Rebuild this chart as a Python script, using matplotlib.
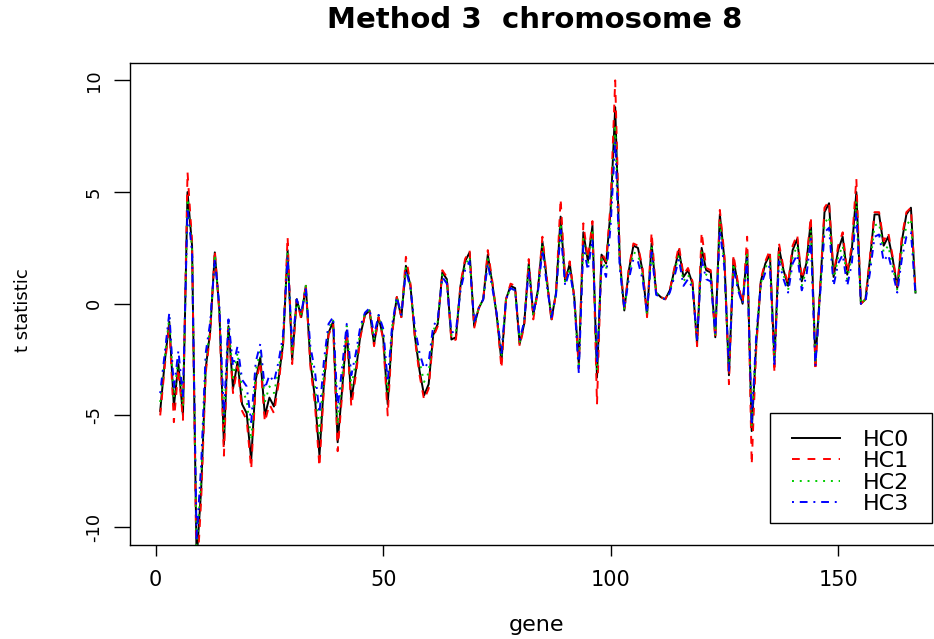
import numpy as np
import matplotlib
matplotlib.use("Agg")
import matplotlib.pyplot as plt
from matplotlib.patches import Rectangle

plt.rcParams['font.family'] = ['DejaVu Sans']
plt.rcParams['axes.unicode_minus'] = False

# t statistics per gene
hc0 = [-4.8, -2.6, -0.8, -4.6, -2.7, -5.0, 5.0, 2.6, -11.5, -8.3,
       -2.9, -1.2, 2.3, -0.3, -6.3, -1.0, -3.8, -2.6, -4.5, -4.9,
       -7.0, -3.4, -2.4, -5.0, -4.2, -4.6, -3.4, -1.8, 2.4, -2.5,
       0.2, -0.6, 0.8, -2.6, -4.2, -6.8, -3.5, -1.3, -0.8, -6.2,
       -3.8, -1.2, -4.3, -3.0, -1.4, -0.5, -0.3, -1.8, -0.6, -1.5,
       -4.5, -1.2, 0.3, -0.6, 1.7, 0.8, -1.5, -3.0, -4.1, -3.6,
       -1.4, -0.9, 1.4, 1.1, -1.6, -1.5, 0.8, 1.9, 2.3, -1.0,
       -0.2, 0.2, 2.2, 0.9, -0.6, -2.6, 0.2, 0.8, 0.7, -1.8,
       -0.9, 1.8, -0.5, 0.6, 2.8, 1.0, -0.7, 0.5, 3.9, 1.0,
       1.8, 0.3, -2.7, 3.2, 1.9, 3.5, -3.3, 2.2, 1.8, 4.2,
       8.8, 2.0, -0.3, 1.5, 2.6, 2.5, 1.5, -0.5, 2.7, 0.5,
       0.3, 0.2, 0.6, 1.5, 2.4, 1.2, 1.5, 0.9, -1.8, 2.5,
       1.5, 1.4, -1.5, 4.0, 2.0, -3.2, 2.0, 0.8, 0.0, 2.4,
       -5.7, -1.8, 1.0, 1.8, 2.2, -2.5, 2.5, 1.5, 0.8, 2.4,
       2.9, 1.0, 1.8, 3.7, -2.6, 0.5, 4.1, 4.5, 1.2, 2.4,
       3.0, 1.3, 2.4, 5.0, 0.0, 0.2, 2.0, 4.0, 4.0, 2.6,
       3.0, 2.0, 0.7, 2.8, 4.0, 4.3, 0.5]

hc1 = [-5.0, -2.8, -0.9, -5.3, -2.9, -5.2, 5.9, 2.8, -12.5, -8.8,
       -3.1, -1.3, 2.4, -0.4, -6.8, -1.1, -4.0, -2.8, -4.8, -5.2,
       -7.4, -3.6, -2.6, -5.3, -4.5, -4.9, -3.6, -1.9, 3.0, -2.7,
       0.2, -0.7, 0.9, -2.8, -4.5, -7.3, -3.7, -1.4, -0.9, -6.6,
       -4.0, -1.3, -4.6, -3.2, -1.5, -0.5, -0.3, -1.9, -0.6, -1.6,
       -5.0, -1.3, 0.3, -0.6, 2.1, 0.9, -1.6, -3.2, -4.3, -3.8,
       -1.5, -1.0, 1.5, 1.2, -1.7, -1.6, 0.9, 2.0, 2.4, -1.1,
       -0.2, 0.2, 2.4, 1.0, -0.6, -2.9, 0.2, 0.9, 0.8, -1.9,
       -1.0, 2.0, -0.7, 0.6, 3.0, 1.1, -0.8, 0.5, 4.7, 1.1,
       1.9, 0.3, -2.9, 3.6, 2.0, 3.7, -4.5, 2.3, 1.9, 4.5,
       10.0, 2.2, -0.3, 1.6, 2.7, 2.6, 1.6, -0.6, 3.2, 0.5,
       0.3, 0.2, 0.6, 1.6, 2.6, 1.3, 1.6, 1.0, -1.9, 3.2,
       1.6, 1.5, -1.6, 4.2, 2.2, -3.6, 2.2, 0.9, 0.0, 3.0,
       -7.2, -2.0, 1.1, 1.9, 2.4, -3.1, 2.7, 1.6, 0.9, 2.6,
       3.1, 1.1, 1.9, 3.9, -3.0, 0.6, 4.3, 4.6, 1.3, 2.6,
       3.2, 1.4, 2.6, 5.6, 0.0, 0.2, 2.1, 4.1, 4.1, 2.8,
       3.2, 2.1, 0.8, 3.0, 4.1, 4.3, 0.6]

hc2 = [-4.4, -2.4, -0.6, -4.2, -2.4, -4.6, 4.7, 2.5, -11.0, -7.8,
       -2.6, -1.0, 2.2, -0.2, -5.6, -0.8, -3.3, -2.2, -3.9, -4.3,
       -6.1, -3.0, -2.1, -4.4, -3.7, -4.0, -3.0, -1.6, 2.3, -2.2,
       0.2, -0.5, 0.8, -2.2, -3.6, -5.8, -3.0, -1.1, -0.7, -5.4,
       -3.3, -1.0, -3.7, -2.6, -1.2, -0.4, -0.3, -1.6, -0.5, -1.3,
       -4.0, -1.0, 0.3, -0.5, 1.6, 0.8, -1.3, -2.6, -3.5, -3.1,
       -1.2, -0.8, 1.3, 1.0, -1.4, -1.3, 0.7, 1.7, 2.1, -0.9,
       -0.2, 0.2, 2.0, 0.8, -0.5, -2.4, 0.2, 0.7, 0.6, -1.7,
       -0.8, 1.7, -0.5, 0.5, 2.6, 0.9, -0.6, 0.5, 3.6, 0.9,
       1.6, 0.3, -2.9, 2.9, 1.7, 3.2, -3.0, 2.0, 1.5, 3.9,
       8.0, 1.8, -0.3, 1.3, 2.3, 2.2, 1.3, -0.5, 2.5, 0.5,
       0.3, 0.2, 0.5, 1.4, 2.2, 1.0, 1.3, 0.8, -1.7, 2.3,
       1.3, 1.2, -1.4, 3.7, 1.8, -3.1, 1.8, 0.7, 0.0, 2.2,
       -5.5, -1.6, 0.9, 1.6, 2.0, -2.6, 2.2, 1.3, 0.6, 2.1,
       2.6, 0.8, 1.5, 3.3, -2.7, 0.4, 3.6, 3.9, 1.0, 2.1,
       2.6, 1.1, 2.1, 4.6, 0.0, 0.2, 1.7, 3.5, 3.6, 2.3,
       2.6, 1.7, 0.6, 2.4, 3.5, 3.8, 0.5]

hc3 = [-4.0, -2.2, -0.4, -3.8, -2.1, -4.2, 4.3, 2.3, -10.5, -7.2,
       -2.2, -0.8, 2.0, -0.1, -5.0, -0.7, -2.8, -1.9, -3.4, -3.7,
       -5.3, -2.6, -1.8, -3.8, -3.2, -3.5, -2.6, -1.4, 2.1, -1.9,
       0.2, -0.4, 0.7, -1.9, -3.0, -4.9, -2.5, -0.9, -0.6, -4.7,
       -2.8, -0.9, -3.2, -2.2, -1.0, -0.4, -0.2, -1.4, -0.5, -1.1,
       -3.5, -0.9, 0.3, -0.5, 1.5, 0.7, -1.1, -2.2, -2.9, -2.6,
       -1.0, -0.7, 1.2, 0.9, -1.3, -1.2, 0.6, 1.5, 1.9, -0.8,
       -0.2, 0.2, 1.8, 0.7, -0.5, -2.2, 0.2, 0.7, 0.6, -1.6,
       -0.8, 1.5, -0.4, 0.5, 2.4, 0.8, -0.6, 0.4, 3.3, 0.8,
       1.5, 0.2, -3.1, 2.6, 1.5, 2.9, -2.7, 1.8, 1.2, 3.5,
       7.3, 1.6, -0.2, 1.1, 2.0, 1.9, 1.1, -0.4, 2.3, 0.4,
       0.3, 0.2, 0.5, 1.2, 2.0, 0.8, 1.1, 0.7, -1.6, 2.0,
       1.1, 1.0, -1.3, 3.3, 1.6, -3.0, 1.6, 0.6, 0.0, 2.0,
       -5.3, -1.4, 0.8, 1.4, 1.7, -2.7, 1.9, 1.1, 0.5, 1.8,
       2.2, 0.6, 1.2, 2.9, -2.8, 0.3, 3.2, 3.4, 0.8, 1.8,
       2.2, 0.8, 1.8, 4.1, 0.0, 0.1, 1.4, 3.0, 3.1, 1.9,
       2.2, 1.4, 0.5, 2.0, 3.0, 3.2, 0.4]

series = [("HC0", hc0, "black", "-"),
          ("HC1", hc1, "#FF0000", (0, (4, 4))),
          ("HC2", hc2, "#00CD00", (0, (1, 3))),
          ("HC3", hc3, "#0000FF", (0, (1, 3, 4, 3)))]

gene = np.arange(1, len(hc0) + 1)

W, H = 934, 639
fig = plt.figure(figsize=(W / 100, H / 100), dpi=100)
# axes runs slightly past the right edge of the picture, as in the reference
ax = fig.add_axes([130 / W, 1 - 545 / H, (945.7 - 130) / W, (545 - 62.5) / H])

for name, vals, col, ls in series:
    ax.plot(gene, vals, color=col, linestyle=ls, lw=1.4, label=name)

ax.set_xlim(-5.64, 173.64)
ax.set_ylim(-10.8, 10.8)
ax.set_xticks([0, 50, 100, 150])
ax.set_yticks([-10, -5, 0, 5, 10])
ax.tick_params(axis='x', direction='out', length=8, width=1, pad=10, labelsize=15)
ax.tick_params(axis='y', direction='out', length=11.5, width=1, pad=8, labelsize=13)
for lab in ax.get_yticklabels():
    lab.set_rotation(90)
    lab.set_va('center')
for sp in ax.spines.values():
    sp.set_linewidth(1)
    sp.set_color('black')

fig.text(535 / W, 1 - 20 / H, "Method 3  chromosome 8", ha='center', va='center',
         fontsize=21, fontweight='bold')
fig.text(536 / W, 1 - 625 / H, "gene", ha='center', va='center', fontsize=16)
fig.text(23 / W, 1 - 310 / H, "t statistic", ha='center', va='center',
         rotation=90, fontsize=13)

# legend box drawn separately so its size matches the reference
box = Rectangle((770 / W, 1 - 523 / H), 162 / W, 110 / H, transform=fig.transFigure,
                facecolor='white', edgecolor='black', lw=1, zorder=4, clip_on=False)
ax.add_patch(box)
leg = ax.legend(loc='upper left', bbox_to_anchor=(792 / W, 1 - 429.5 / H),
                bbox_transform=fig.transFigure, frameon=False, fontsize=16,
                handlelength=2.16, handletextpad=1.04, labelspacing=0.07,
                borderpad=0, borderaxespad=0)
leg.set_zorder(5)

fig.savefig("out.png", dpi=100)
